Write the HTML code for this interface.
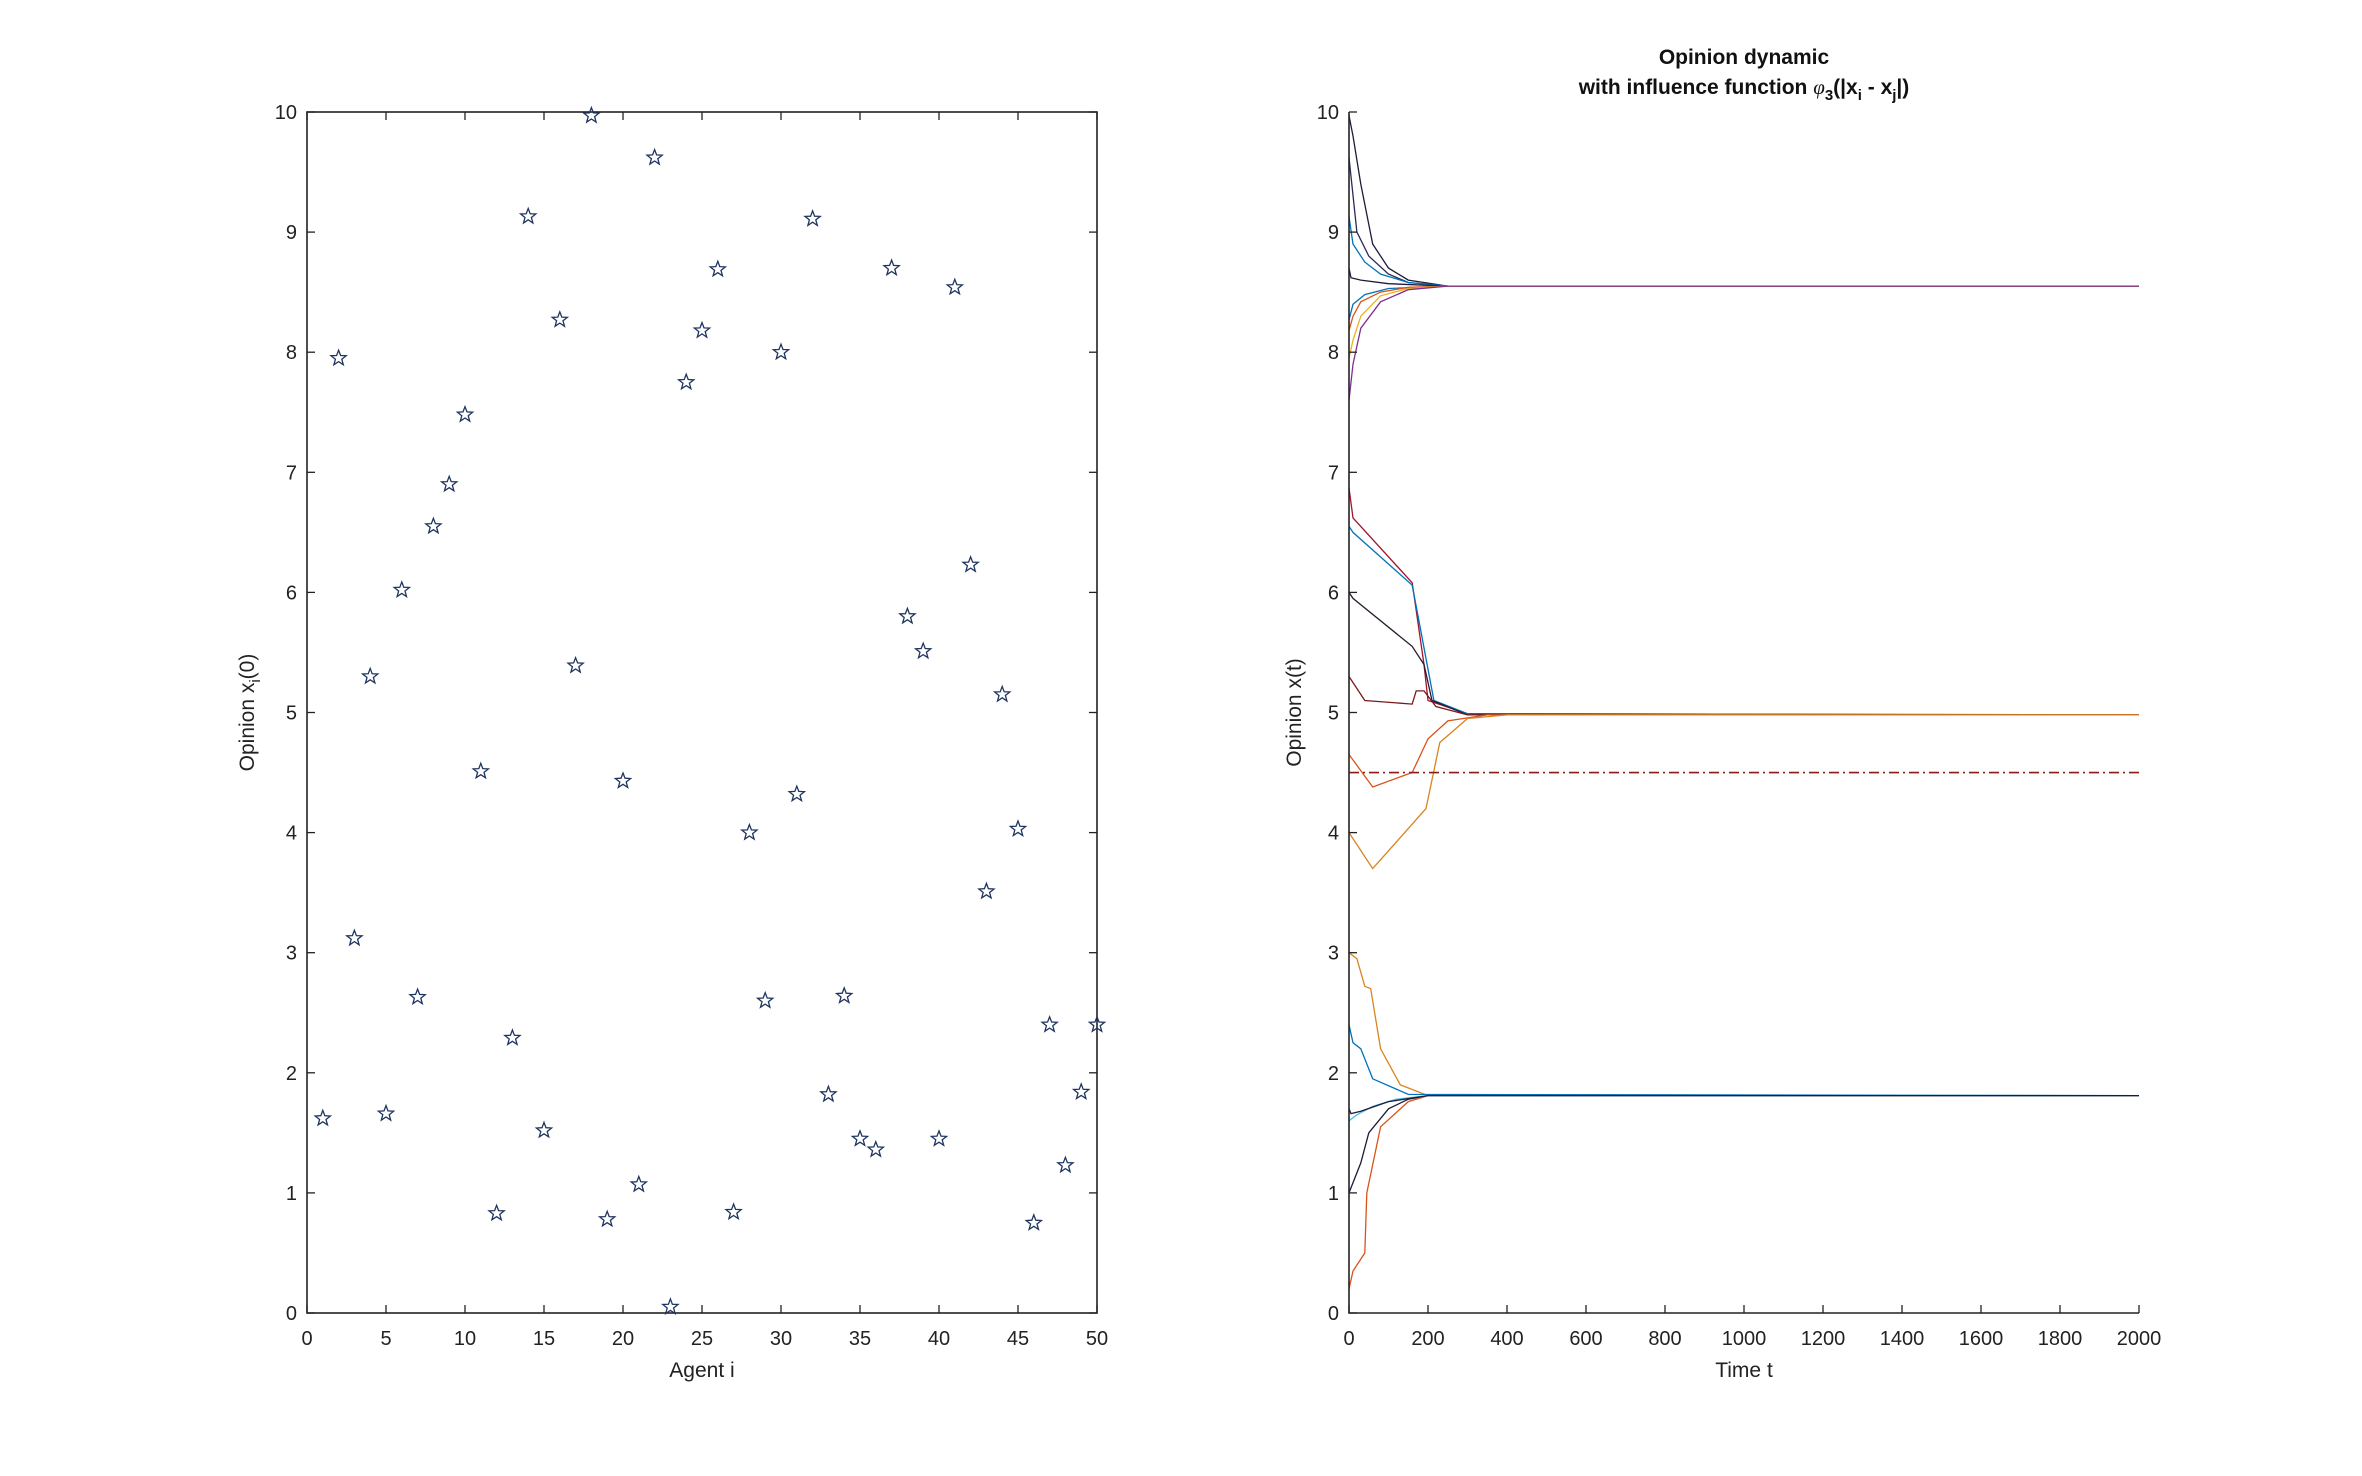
<!DOCTYPE html>
<html><head><meta charset="utf-8"><style>
body{margin:0;background:#fff}
svg{display:block;font-family:"Liberation Sans",sans-serif}
</style></head><body>
<svg id="fig" width="2362" height="1476" viewBox="0 0 2362 1476" xmlns="http://www.w3.org/2000/svg">
<rect width="2362" height="1476" fill="#fff"/>
<g id="left"></g>
<g id="right"></g>
</svg>
<script>
const NS='http://www.w3.org/2000/svg';
// ---- left chart data ----
const agents=[];for(let i=1;i<=50;i++)agents.push(i);
const opinions0=[1.62,7.95,3.12,5.3,1.66,6.02,2.63,6.55,6.9,7.48,4.51,0.83,2.29,9.13,1.52,8.27,5.39,9.97,0.78,4.43,1.07,9.62,0.05,7.75,8.18,8.69,0.84,4.0,2.6,8.0,4.32,9.11,1.82,2.64,1.45,1.36,8.7,5.8,5.51,1.45,8.54,6.23,3.51,5.15,4.03,0.75,2.4,1.23,1.84,2.4];
const leftXTicks=[0,5,10,15,20,25,30,35,40,45,50];
const yTicks=[0,1,2,3,4,5,6,7,8,9,10];
// ---- right chart data ----
const timeTicks=[0,200,400,600,800,1000,1200,1400,1600,1800,2000];
const trajTimes=[
[0,10,30,60,100,150,250,2000],
[0,20,50,100,150,250,2000],
[0,10,40,80,150,250,2000],
[0,5,30,100,250,2000],
[0,10,40,100,250,2000],
[0,10,30,80,150,250,2000],
[0,10,30,80,150,250,2000],
[0,10,30,80,150,250,2000],
[0,10,160,170,190,200,300,2000],
[0,10,160,175,195,215,300,2000],
[0,10,160,190,210,300,2000],
[0,40,160,170,190,220,300,2000],
[0,60,160,200,250,350,2000],
[0,60,195,230,300,400,2000],
[0,20,40,55,80,130,200,2000],
[0,10,30,60,150,2000],
[0,30,50,100,150,200,2000],
[0,10,40,45,80,150,200,2000],
[0,20,60,120,200,2000],
[0,5,30,100,200,2000]
];
const trajValues=[
[9.97,9.8,9.4,8.9,8.7,8.6,8.55,8.55],
[9.62,9.0,8.8,8.65,8.58,8.55,8.55],
[9.13,8.9,8.75,8.65,8.58,8.55,8.55],
[8.7,8.62,8.6,8.57,8.55,8.55],
[8.27,8.4,8.48,8.53,8.55,8.55],
[8.18,8.3,8.42,8.5,8.54,8.55,8.55],
[7.95,8.1,8.3,8.47,8.53,8.55,8.55],
[7.6,7.9,8.2,8.42,8.52,8.55,8.55],
[6.87,6.62,6.08,5.85,5.4,5.1,4.99,4.98],
[6.55,6.5,6.06,5.8,5.45,5.1,4.99,4.98],
[6.0,5.95,5.55,5.4,5.1,4.98,4.98],
[5.3,5.1,5.07,5.18,5.18,5.05,4.98,4.98],
[4.65,4.38,4.5,4.78,4.93,4.98,4.98],
[4.0,3.7,4.2,4.75,4.95,4.98,4.98],
[3.0,2.95,2.72,2.7,2.2,1.9,1.81,1.81],
[2.4,2.25,2.2,1.95,1.82,1.81],
[1.0,1.25,1.5,1.7,1.78,1.81,1.81],
[0.2,0.35,0.5,1.0,1.55,1.76,1.81,1.81],
[1.6,1.65,1.72,1.78,1.81,1.81],
[1.7,1.66,1.68,1.76,1.81,1.81]
];
const trajColors=['#1c1c3a','#2a2a5a','#0072BD','#1c1c3a','#0072BD','#D95319','#EDB120','#7E2F8E','#A2142F','#0072BD','#2b1a30','#7a1a1a','#D95319','#D9831F','#D9831F','#0072BD','#1c1c3a','#D95319','#4DBEEE','#1c1c3a'];
const refValue=[4.5];

function el(tag,attrs,parent){const e=document.createElementNS(NS,tag);for(const k in attrs)e.setAttribute(k,attrs[k]);parent.appendChild(e);return e;}
function txt(s,attrs,parent){const t=el('text',attrs,parent);t.textContent=s;return t;}

// ---- left chart ----
const L=document.getElementById('left');
const lx0=307,lx1=1097,ly0=1313,ly1=112;
const lxs=v=>lx0+(v-0)/50*(lx1-lx0);
const ys=v=>ly0-v/10*(ly0-ly1);
const lbox=el('rect',{x:lx0,y:ly1,width:lx1-lx0,height:ly0-ly1,fill:'none',stroke:'#222','stroke-width':1.6},L);


leftXTicks.forEach(v=>{
  const x=lxs(v);
  el('line',{x1:x,y1:ly0,x2:x,y2:ly0-8,stroke:'#222','stroke-width':1.3},L);
  el('line',{x1:x,y1:ly1,x2:x,y2:ly1+8,stroke:'#222','stroke-width':1.3},L);
  const t=txt(String(v),{x:x,y:ly0+32,'text-anchor':'middle','font-size':20,fill:'#222'},L);
  
  
});
yTicks.forEach(v=>{
  const y=ys(v);
  el('line',{x1:lx0,y1:y,x2:lx0+8,y2:y,stroke:'#222','stroke-width':1.3},L);
  el('line',{x1:lx1,y1:y,x2:lx1-8,y2:y,stroke:'#222','stroke-width':1.3},L);
  const t=txt(String(v),{x:lx0-10,y:y+7,'text-anchor':'end','font-size':20,fill:'#222'},L);
  
  
});
function starPts(cx,cy,r){let p=[];for(let k=0;k<10;k++){const a=-Math.PI/2+k*Math.PI/5;const rr=k%2?r*0.42:r;p.push((cx+rr*Math.cos(a)).toFixed(1)+','+(cy+rr*Math.sin(a)).toFixed(1));}return p.join(' ');}
agents.forEach((a,i)=>{
  const s=el('polygon',{points:starPts(lxs(a),ys(opinions0[i]),8),fill:'none',stroke:'#1f3560','stroke-width':1.3},L);
  
  
});
const lxl=txt('Agent i',{x:(lx0+lx1)/2,y:1377,'text-anchor':'middle','font-size':21,fill:'#222'},L);


const lyl=el('text',{x:0,y:0,'text-anchor':'middle','font-size':21,fill:'#222',transform:'translate(254,'+((ly0+ly1)/2)+') rotate(-90)'},L);
lyl.innerHTML='Opinion x<tspan font-size="15" dy="6">i</tspan><tspan dy="-6">(0)</tspan>';



// ---- right chart ----
const R=document.getElementById('right');
const rx0=1349,rx1=2139;
const rxs=v=>rx0+v/2000*(rx1-rx0);
trajTimes.forEach((ts,i)=>{
  const d=ts.map((t,j)=>(j?'L':'M')+rxs(t).toFixed(1)+','+ys(trajValues[i][j]).toFixed(1)).join(' ');
  const p=el('path',{d:d,fill:'none',stroke:trajColors[i],'stroke-width':1.3},R);
  
  
});
const ref=el('line',{x1:rxs(0),y1:ys(refValue[0]),x2:rxs(2000),y2:ys(refValue[0]),stroke:'#8b1a1a','stroke-width':1.6,'stroke-dasharray':'10 4 2 4'},R);


const ax=el('path',{d:`M${rx0},${ly1} L${rx0},${ly0} L${rx1},${ly0}`,fill:'none',stroke:'#222','stroke-width':1.6},R);


timeTicks.forEach(v=>{
  const x=rxs(v);
  el('line',{x1:x,y1:ly0,x2:x,y2:ly0-8,stroke:'#222','stroke-width':1.3},R);
  const t=txt(String(v),{x:x,y:ly0+32,'text-anchor':'middle','font-size':20,fill:'#222'},R);
  
  
});
yTicks.forEach(v=>{
  const y=ys(v);
  el('line',{x1:rx0,y1:y,x2:rx0+8,y2:y,stroke:'#222','stroke-width':1.3},R);
  const t=txt(String(v),{x:rx0-10,y:y+7,'text-anchor':'end','font-size':20,fill:'#222'},R);
  
  
});
const rxl=txt('Time t',{x:(rx0+rx1)/2,y:1377,'text-anchor':'middle','font-size':21,fill:'#222'},R);


const ryl=txt('Opinion x(t)',{x:0,y:0,'text-anchor':'middle','font-size':21,fill:'#222',transform:'translate(1301,'+((ly0+ly1)/2)+') rotate(-90)'},R);


const t1=txt('Opinion dynamic',{x:1744,y:64,'text-anchor':'middle','font-size':21,'font-weight':'bold',fill:'#111'},R);


const t2=el('text',{x:1744,y:94,'text-anchor':'middle','font-size':21,'font-weight':'bold',fill:'#111'},R);
t2.innerHTML='with influence function <tspan font-style="italic" font-weight="normal" font-family="Liberation Serif">φ</tspan><tspan font-size="15" dy="6">3</tspan><tspan dy="-6">(|x</tspan><tspan font-size="15" dy="6">i</tspan><tspan dy="-6"> - x</tspan><tspan font-size="15" dy="6">j</tspan><tspan dy="-6">|)</tspan>';


</script>
</body></html>
